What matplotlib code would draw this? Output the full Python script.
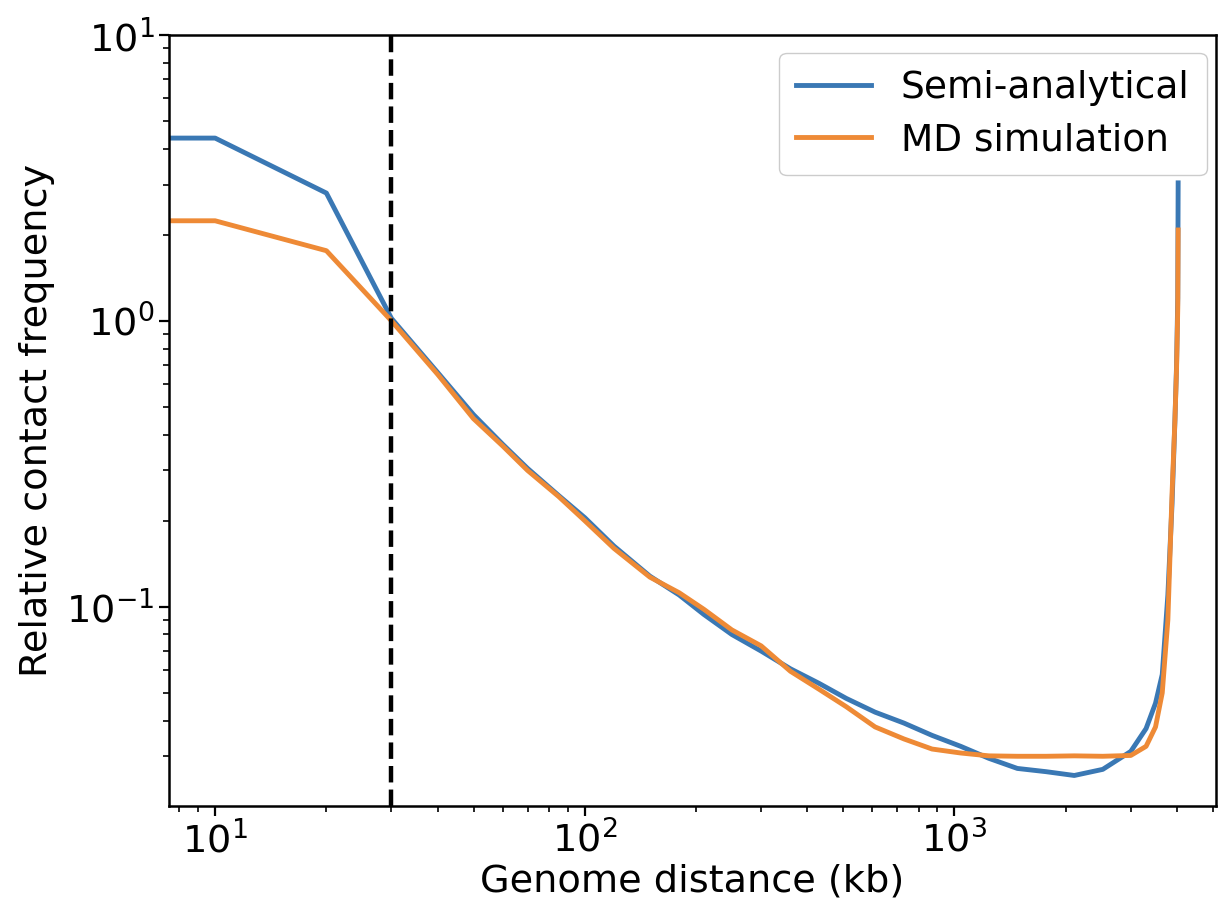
import matplotlib
matplotlib.use("Agg")
import matplotlib.pyplot as plt

# genome distance (kb), shared by both curves
dist_kb = [5, 10, 20, 30, 40, 50, 60, 70, 85, 100, 120, 150, 180, 210, 250,
           300, 360, 430, 510, 610, 730, 870, 1040, 1240, 1480, 1770, 2110,
           2520, 3000, 3300, 3500, 3650, 3780, 3880, 3950, 3990, 4020, 4030]

semi_analytical = [4.36, 4.36, 2.80, 1.02, 0.66, 0.47, 0.37, 0.305, 0.245, 0.205,
                   0.163, 0.128, 0.110, 0.094, 0.080, 0.070, 0.0607, 0.054,
                   0.0478, 0.0428, 0.0392, 0.0355, 0.0325, 0.0295, 0.0272,
                   0.0265, 0.0257, 0.0270, 0.0312, 0.0375, 0.046, 0.058, 0.11,
                   0.23, 0.45, 0.70, 1.20, 3.04]

md_simulation = [2.24, 2.24, 1.76, 1.0, 0.65, 0.455, 0.365, 0.30, 0.243, 0.200,
                 0.160, 0.127, 0.112, 0.098, 0.083, 0.073, 0.0595, 0.0515,
                 0.0447, 0.0380, 0.0345, 0.0318, 0.0308, 0.0301, 0.0300,
                 0.0300, 0.0301, 0.0300, 0.0302, 0.0325, 0.038, 0.050, 0.09,
                 0.25, 0.45, 0.68, 1.10, 2.08]

cutoff_kb = 30

fig = plt.figure(figsize=(12.19, 9.05), dpi=100)
ax = fig.add_axes([0.1386, 0.1094, 0.8589, 0.8519])

ax.plot(dist_kb, semi_analytical, color="#3a78b4", lw=3.5, label="Semi-analytical")
ax.plot(dist_kb, md_simulation, color="#ee8a36", lw=3.5, label="MD simulation")
ax.axvline(cutoff_kb, color="black", ls="--", lw=3.2)

ax.set_xscale("log")
ax.set_yscale("log")
ax.set_xlim(7.5, 5100)
ax.set_ylim(0.0201, 10)

ax.set_xlabel("Genome distance (kb)", fontsize=27.5, labelpad=2)
ax.set_ylabel("Relative contact frequency", fontsize=27.5, labelpad=8)
ax.tick_params(which="major", labelsize=27.5, length=7, width=1.6)
ax.tick_params(which="minor", length=4, width=1.2)
for s in ax.spines.values():
    s.set_linewidth(1.8)

ax.legend(loc="upper right", bbox_to_anchor=(0.991, 0.977), borderaxespad=0,
          fontsize=27, framealpha=1, edgecolor="#cccccc",
          handlelength=2.0, borderpad=0.45, labelspacing=0.45)

fig.savefig("out.png", dpi=100)
